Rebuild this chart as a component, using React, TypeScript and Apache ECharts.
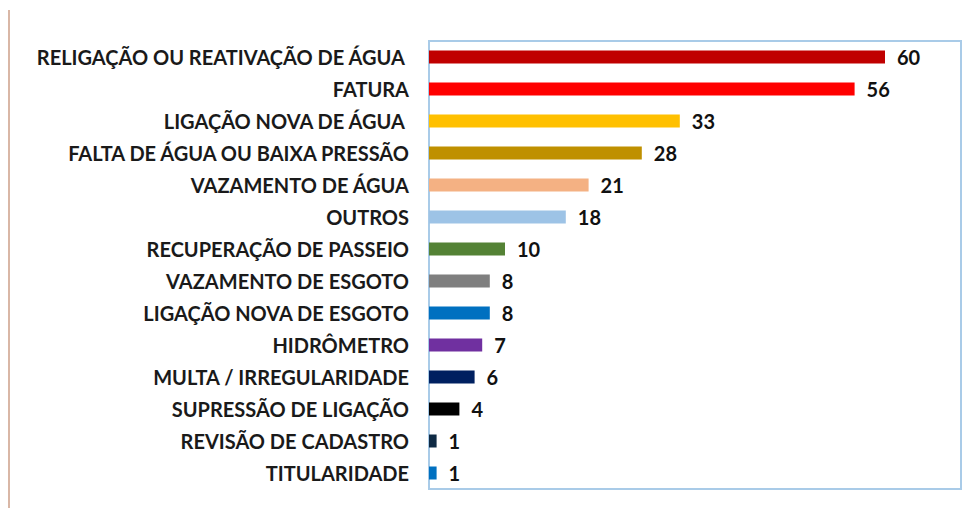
import React, { useEffect, useRef } from "react";
import * as echarts from "echarts";

const categories = [
  "RELIGAÇÃO OU REATIVAÇÃO DE ÁGUA ",
  "FATURA",
  "LIGAÇÃO NOVA DE ÁGUA ",
  "FALTA DE ÁGUA OU BAIXA PRESSÃO",
  "VAZAMENTO DE ÁGUA",
  "OUTROS",
  "RECUPERAÇÃO DE PASSEIO",
  "VAZAMENTO DE ESGOTO",
  "LIGAÇÃO NOVA DE ESGOTO",
  "HIDRÔMETRO",
  "MULTA / IRREGULARIDADE",
  "SUPRESSÃO DE LIGAÇÃO",
  "REVISÃO DE CADASTRO",
  "TITULARIDADE",
];
const values = [60, 56, 33, 28, 21, 18, 10, 8, 8, 7, 6, 4, 1, 1];
const colors = [
  "#c00000",
  "#ff0000",
  "#ffc000",
  "#bf9000",
  "#f4b183",
  "#9dc3e6",
  "#548235",
  "#7f7f7f",
  "#0070c0",
  "#7030a0",
  "#002060",
  "#000000",
  "#0f2a44",
  "#0070c0",
];

export default function App() {
  const ref = useRef<HTMLDivElement>(null);
  useEffect(() => {
    if (!ref.current) return;
    const chart = echarts.init(ref.current, null, { renderer: "svg" });
    const font = "Lato, 'Open Sans', sans-serif";
    chart.setOption({
      animation: false,
      backgroundColor: "#ffffff",
      graphic: [
        {
          type: "rect",
          shape: { x: 8, y: 10, width: 2, height: 498 },
          style: { fill: "#d9b7a6" },
          silent: true,
        },
      ],
      grid: {
        left: 429,
        top: 41,
        width: 532,
        height: 448,
        show: true,
        borderColor: "#a9cbe8",
        borderWidth: 2,
        backgroundColor: "transparent",
      },
      xAxis: {
        type: "value",
        min: 0,
        max: 70,
        show: false,
        splitLine: { show: false },
      },
      yAxis: {
        type: "category",
        data: categories,
        inverse: true,
        axisLine: { show: false },
        axisTick: { show: false },
        axisLabel: {
          margin: 20,
          color: "#1a1a1a",
          fontWeight: "bold",
          fontSize: 20,
          fontFamily: font,
        },
      },
      series: [
        {
          type: "bar",
          data: values.map((v, i) => ({ value: v, itemStyle: { color: colors[i] } })),
          barWidth: 13,
          label: {
            show: true,
            position: "right",
            distance: 12,
            color: "#111111",
            fontWeight: "bold",
            fontSize: 20,
            fontFamily: font,
          },
        },
      ],
    });
    return () => chart.dispose();
  }, []);
  return (
    <div
      ref={ref}
      style={{ position: "fixed", left: 0, top: 0, width: 972, height: 508 }}
    />
  );
}
